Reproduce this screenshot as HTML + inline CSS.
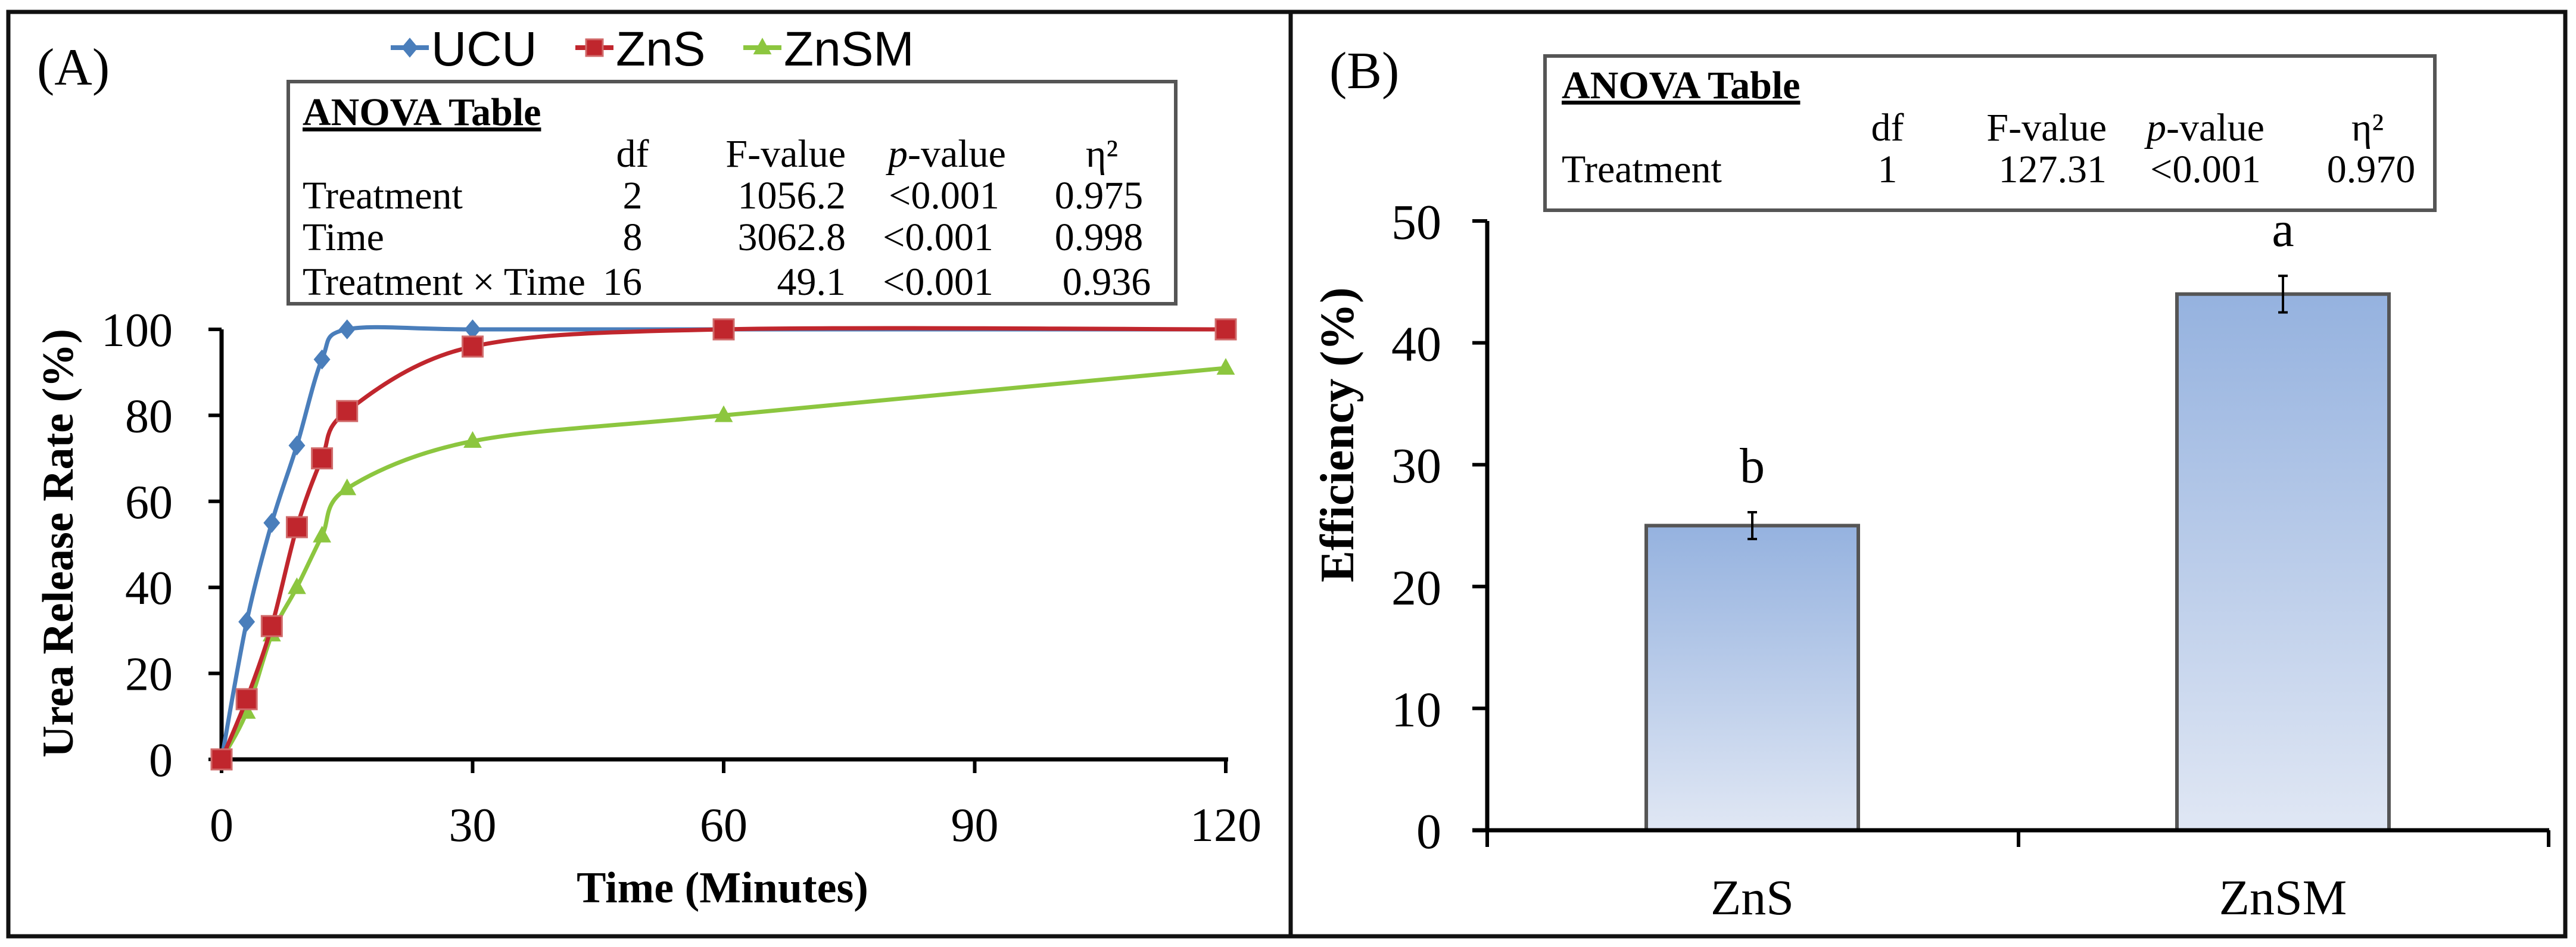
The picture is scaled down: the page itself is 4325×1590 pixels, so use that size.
<!DOCTYPE html>
<html><head><meta charset="utf-8"><style>
html,body{margin:0;padding:0;background:#fff}
svg{display:block}
text{font-family:"Liberation Serif",serif}
</style></head><body>
<svg id="chart" width="4325" height="1590" viewBox="0 0 4325 1590" xmlns="http://www.w3.org/2000/svg">
<defs>
<linearGradient id="barGrad" x1="0" y1="0" x2="0" y2="1">
<stop offset="0" stop-color="#95b2df"/><stop offset="1" stop-color="#e0e7f4"/>
</linearGradient>
</defs>
<rect x="14" y="20" width="4293" height="1552" fill="none" stroke="#111" stroke-width="7"/>
<line x1="2167" y1="20" x2="2167" y2="1572" stroke="#111" stroke-width="7"/>
<text x="62" y="142" font-size="88">(A)</text>
<text x="2232" y="148" font-size="88">(B)</text>

<g id="legend"></g>

<g>
<rect x="484" y="137" width="1490" height="373" fill="#fff" stroke="#555" stroke-width="6"/>
<text x="508" y="210" font-size="66" font-weight="bold" text-decoration="underline">ANOVA Table</text>
<text x="1062" y="280" font-size="66" text-anchor="middle">df</text>
<text x="1420" y="280" font-size="66" text-anchor="end">F-value</text>
<text x="1590" y="280" font-size="66" text-anchor="middle"><tspan font-style="italic">p</tspan>-value</text>
<text x="1850" y="280" font-size="66" text-anchor="middle">η²</text>
<text x="508" y="350" font-size="66">Treatment</text>
<text x="1062" y="350" font-size="66" text-anchor="middle">2</text>
<text x="1420" y="350" font-size="66" text-anchor="end">1056.2</text>
<text x="1585" y="350" font-size="66" text-anchor="middle">&lt;0.001</text>
<text x="1845" y="350" font-size="66" text-anchor="middle">0.975</text>
<text x="508" y="420" font-size="66">Time</text>
<text x="1062" y="420" font-size="66" text-anchor="middle">8</text>
<text x="1420" y="420" font-size="66" text-anchor="end">3062.8</text>
<text x="1575" y="420" font-size="66" text-anchor="middle">&lt;0.001</text>
<text x="1845" y="420" font-size="66" text-anchor="middle">0.998</text>
<text x="508" y="495" font-size="66">Treatment × Time</text>
<text x="1045" y="495" font-size="66" text-anchor="middle">16</text>
<text x="1420" y="495" font-size="66" text-anchor="end">49.1</text>
<text x="1575" y="495" font-size="66" text-anchor="middle">&lt;0.001</text>
<text x="1858" y="495" font-size="66" text-anchor="middle">0.936</text>
</g>

<g id="plotA"></g>
<text x="1213" y="1515" font-size="74" font-weight="bold" text-anchor="middle">Time (Minutes)</text>
<text transform="translate(122,912) rotate(-90)" font-size="74" font-weight="bold" text-anchor="middle">Urea Release Rate (%)</text>

<g>
<rect x="2594" y="94" width="1494" height="259" fill="#fff" stroke="#555" stroke-width="6"/>
<text x="2622" y="165" font-size="66" font-weight="bold" text-decoration="underline">ANOVA Table</text>
<text x="3169" y="236" font-size="66" text-anchor="middle">df</text>
<text x="3537" y="236" font-size="66" text-anchor="end">F-value</text>
<text x="3703" y="236" font-size="66" text-anchor="middle"><tspan font-style="italic">p</tspan>-value</text>
<text x="3975" y="236" font-size="66" text-anchor="middle">η²</text>
<text x="2622" y="306" font-size="66">Treatment</text>
<text x="3169" y="306" font-size="66" text-anchor="middle">1</text>
<text x="3537" y="306" font-size="66" text-anchor="end">127.31</text>
<text x="3703" y="306" font-size="66" text-anchor="middle">&lt;0.001</text>
<text x="3981" y="306" font-size="66" text-anchor="middle">0.970</text>
</g>
<g id="plotB"></g>
<text transform="translate(2272,730) rotate(-90)" font-size="80" font-weight="bold" text-anchor="middle">Efficiency (%)</text>
</svg>
<script>
// Panel A data
const timesA = [0, 3, 6, 9, 12, 15, 30, 60, 120];
const ucuValues = [0, 32, 55, 73, 93, 100, 100, 100, 100];
const znsValues = [0, 14, 31, 54, 70, 81, 96, 100, 100];
const znsmValues = [0, 11, 29, 40, 52, 63, 74, 80, 91];
const xTicksA = [0, 30, 60, 90, 120];
const yTicksA = [0, 20, 40, 60, 80, 100];
// Panel B data
const catsB = ["ZnS", "ZnSM"];
const effValues = [25, 44];
const effErrors = [1.1, 1.5];
const effLetters = ["b", "a"];
const yTicksB = [0, 10, 20, 30, 40, 50];

const NS = "http://www.w3.org/2000/svg";
function mk(tag, attrs, parent) {
  const e = document.createElementNS(NS, tag);
  for (const k in attrs) e.setAttribute(k, attrs[k]);
  parent.appendChild(e); return e;
}
// ---- Panel A ----
const gA = document.getElementById('plotA');
const xA = t => 372 + (t / 120) * (2058 - 372);
const yA = v => 1275 - (v / 100) * (1275 - 553);
let ax = mk('line', {x1:372,y1:553,x2:372,y2:1275,stroke:'#000','stroke-width':7}, gA);


ax = mk('line', {x1:368,y1:1275,x2:2062,y2:1275,stroke:'#000','stroke-width':7}, gA);


yTicksA.forEach(v => {
  mk('line', {x1:350,y1:yA(v),x2:372,y2:yA(v),stroke:'#000','stroke-width':6}, gA);
  const t = mk('text', {x:290,y:yA(v)+28,'font-size':80,'text-anchor':'end'}, gA);
  t.textContent = v;
  
  
});
xTicksA.forEach(v => {
  mk('line', {x1:xA(v),y1:1275,x2:xA(v),y2:1298,stroke:'#000','stroke-width':6}, gA);
  const t = mk('text', {x:xA(v),y:1412,'font-size':80,'text-anchor':'middle'}, gA);
  t.textContent = v;
  
  
});
function smoothPath(xs, ys) {
  const p = xs.map((x, i) => [xA(x), yA(ys[i])]);
  let d = `M${p[0][0]},${p[0][1]}`;
  for (let i = 0; i < p.length - 1; i++) {
    const p0 = p[Math.max(i - 1, 0)], p1 = p[i], p2 = p[i + 1], p3 = p[Math.min(i + 2, p.length - 1)];
    const k = 0.16;
    const c1 = [p1[0] + (p2[0] - p0[0]) * k, p1[1] + (p2[1] - p0[1]) * k];
    const c2 = [p2[0] - (p3[0] - p1[0]) * k, p2[1] - (p3[1] - p1[1]) * k];
    d += ` C${c1[0]},${c1[1]} ${c2[0]},${c2[1]} ${p2[0]},${p2[1]}`;
  }
  return d;
}
const seriesA = [
  {name:'UCU', vals:ucuValues, color:'#4a7ebb', marker:'diamond'},
  {name:'ZnSM', vals:znsmValues, color:'#8cc63f', marker:'tri'},
  {name:'ZnS', vals:znsValues, color:'#c0262d', marker:'square'}
];
function drawMarker(g, type, cx, cy, color, s) {
  if (type === 'square') return mk('rect', {x:cx-s,y:cy-s,width:2*s,height:2*s,fill:color,stroke:'#d06a6a','stroke-width':3}, g);
  if (type === 'tri') return mk('polygon', {points:`${cx},${cy-s*1.2} ${cx+s*1.1},${cy+s*0.8} ${cx-s*1.1},${cy+s*0.8}`,fill:color}, g);
  return mk('polygon', {points:`${cx},${cy-s*1.2} ${cx+s},${cy} ${cx},${cy+s*1.2} ${cx-s},${cy}`,fill:color}, g);
}
seriesA.forEach(s => {
  const g = mk('g', {}, gA);
  
  
  mk('path', {d:smoothPath(timesA, s.vals),fill:'none',stroke:s.color,'stroke-width':7}, g);
  timesA.forEach((t, i) => {
    const m = drawMarker(g, s.marker, xA(t), yA(s.vals[i]), s.color, s.marker === 'square' ? 17 : 14);
    
    
  });
});
// legend
const lg = document.getElementById('legend');
[['UCU', '#4a7ebb', 'diamond', 656], ['ZnS', '#c0262d', 'square', 966], ['ZnSM', '#8cc63f', 'tri', 1248]].forEach(([n, c, m, x]) => {
  const g = mk('g', {}, lg);
  
  
  mk('line', {x1:x,y1:80,x2:x+64,y2:80,stroke:c,'stroke-width':8}, g);
  drawMarker(g, m, x + 32, 80, c, 14);
  const t = mk('text', {x:x+68,y:110,'font-size':82,fill:'#000',style:'font-family:"Liberation Sans",sans-serif'}, g);
  t.textContent = n;
});
// ---- Panel B ----
const gB = document.getElementById('plotB');
const yB = v => 1394 - (v / 50) * (1394 - 371);
const xCenters = [2942, 3833];
yTicksB.forEach(v => {
  mk('line', {x1:2472,y1:yB(v),x2:2497,y2:yB(v),stroke:'#000','stroke-width':6}, gB);
  const t = mk('text', {x:2420,y:yB(v)+30,'font-size':84,'text-anchor':'end'}, gB);
  t.textContent = v;
  
  
});
catsB.forEach((c, i) => {
  const cx = xCenters[i], v = effValues[i], e = effErrors[i];
  const r = mk('rect', {x:cx-178,y:yB(v),width:356,height:1394-yB(v),fill:'url(#barGrad)',stroke:'#555','stroke-width':6}, gB);
  
  
  const eb = mk('path', {d:`M${cx},${yB(v+e)} V${yB(v-e)} M${cx-8},${yB(v+e)} H${cx+8} M${cx-8},${yB(v-e)} H${cx+8}`,stroke:'#000','stroke-width':4,fill:'none'}, gB);
  
  
  const l = mk('text', {x:cx,y:yB(v+e)-50,'font-size':84,'text-anchor':'middle'}, gB);
  l.textContent = effLetters[i];
  
  
  const t = mk('text', {x:cx,y:1535,'font-size':84,'text-anchor':'middle'}, gB);
  t.textContent = c;
  
  
});
ax = mk('line', {x1:2497,y1:371,x2:2497,y2:1397,stroke:'#000','stroke-width':7}, gB);


ax = mk('line', {x1:2472,y1:1394,x2:4280,y2:1394,stroke:'#000','stroke-width':7}, gB);


[2497, 3389, 4279].forEach(x => mk('line', {x1:x,y1:1394,x2:x,y2:1422,stroke:'#000','stroke-width':6}, gB));
</script>
</body></html>
